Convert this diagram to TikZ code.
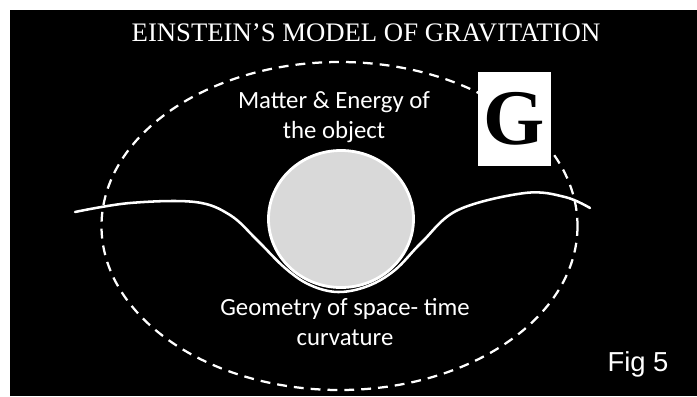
\documentclass[tikz,border=0pt]{standalone}
\usepackage{fontspec}
\usetikzlibrary{shapes.geometric}
\setmainfont{Liberation Serif}
\newfontfamily\calib{Carlito}
\newfontfamily\arialf{Liberation Sans}
\begin{document}
\begin{tikzpicture}[x=0.025cm,y=-0.025cm,
  lbl/.style={text=white,font=\calib\fontsize{17.6}{21}\selectfont,align=center,inner sep=0pt},
  dashring/.style={draw=white,line width=1.6pt,dash pattern=on 7pt off 5pt},
  wave/.style={draw=white,line width=1.8pt,line cap=round}]
\useasboundingbox (0,0) rectangle (697,396);
\fill[white] (0,0) rectangle (697,396);
\fill[black] (10,10) rectangle (697,396);
\node[text=white,font=\fontsize{19}{22}\selectfont,inner sep=0pt] (title) at (366,33) {EINSTEIN’S MODEL OF GRAVITATION};
\draw[dashring] (339.5,226) ellipse [x radius=238, y radius=164];
\node[fill=white,minimum width=73*0.025cm,minimum height=94*0.025cm,inner sep=0pt,font=\bfseries\fontsize{56}{56}\selectfont] (g) at (514.5,119) {G};
\node[ellipse,fill={rgb,255:red,217;green,217;blue,217},draw=white,line width=2pt,minimum width=145*0.025cm,minimum height=137*0.025cm,inner sep=0pt] (ball) at (341,219) {};
\draw[wave] plot[smooth,tension=0.6] coordinates {(75,212) (130,203) (195,202) (230,215) (257,240) (285,268) (310,285) (338,292) (368,286) (395,270) (422,242) (458,210) (525,193) (565,197) (590,208)};
\node[lbl] (matter) at (334,117) {Matter \& Energy of\\the object};
\node[lbl] (geom) at (345,322) {Geometry of space- time\\curvature};
\node[text=white,font=\arialf\fontsize{19.5}{22}\selectfont,inner sep=0pt] (fig) at (638,364) {Fig 5};
\end{tikzpicture}
\end{document}
